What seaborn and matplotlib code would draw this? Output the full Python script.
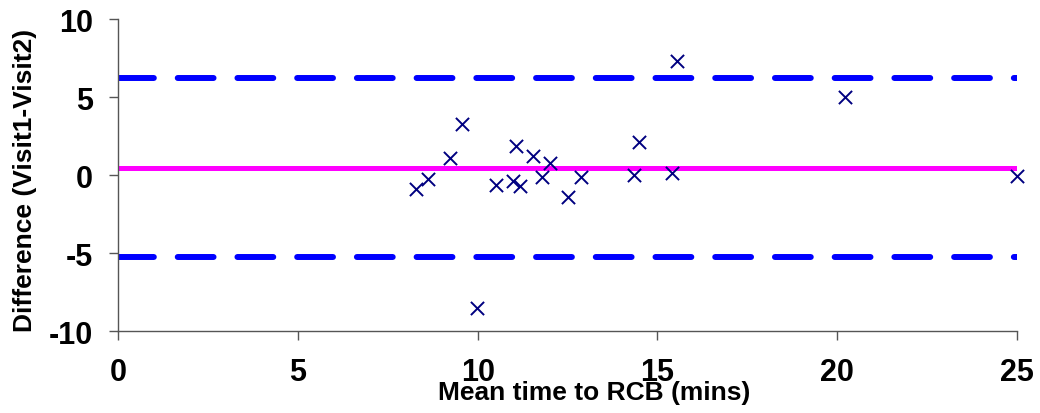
import numpy as np
import pandas as pd
import matplotlib
matplotlib.use('Agg')
import matplotlib.pyplot as plt
import seaborn as sns

# data (Bland-Altman style plot)
mean_time = [8.28, 8.63, 9.23, 9.55, 9.99, 10.51, 10.99, 11.07, 11.18, 11.55,
             11.80, 12.00, 12.50, 12.87, 14.36, 14.49, 15.40, 15.54, 20.22, 25.0]
difference = [-0.88, -0.24, 1.09, 3.26, -8.50, -0.60, -0.35, 1.87, -0.71, 1.22,
              -0.13, 0.77, -1.41, -0.09, 0.02, 2.12, 0.15, 7.35, 5.04, -0.03]
bias = 0.48
upper_loa = 6.24
lower_loa = -5.26
line_x = [0, 25]

x_ticks = [0, 5, 10, 15, 20, 25]
y_ticks = [-10, -5, 0, 5, 10]

df = pd.DataFrame({'mean': mean_time, 'diff': difference})

sns.set_style('ticks')
plt.rcParams['font.family'] = ['Liberation Sans', 'DejaVu Sans']
plt.rcParams['font.weight'] = 'bold'
plt.rcParams['axes.unicode_minus'] = False

fig = plt.figure(figsize=(10.4, 4.14), dpi=100)
ax = fig.add_axes([0.1138, 0.198, 0.8638, 0.753])

# limits of agreement and mean difference
for lim in [upper_loa, lower_loa]:
    ax.plot(line_x, [lim, lim], color='#0000FF', lw=4.3, dashes=(6, 4),
            dash_capstyle='round', solid_capstyle='round', zorder=2)
ax.plot(line_x, [bias, bias], color='#FF00FF', lw=3.6, solid_capstyle='round', zorder=2)

sns.scatterplot(data=df, x='mean', y='diff', marker='x', color='#000080',
                s=90, linewidth=1.4, ax=ax, zorder=3, clip_on=False)

ax.set_xlim(0, 25)
ax.set_ylim(-10, 10)
ax.set_xticks(x_ticks)
ax.set_yticks(y_ticks)
ax.tick_params(axis='both', labelsize=22, length=6.5, width=1, color='#555555',
               labelcolor='black', pad=12)

for s in ['top', 'right']:
    ax.spines[s].set_visible(False)
for s in ['left', 'bottom']:
    ax.spines[s].set_color('#555555')
    ax.spines[s].set_linewidth(1)

ax.set_xlabel('Mean time to RCB (mins)', fontsize=19, fontweight='bold', color='black')
ax.set_ylabel('Difference (Visit1-Visit2)', fontsize=19, fontweight='bold', color='black')
ax.xaxis.set_label_coords(0.530, -0.157)
ax.yaxis.set_label_coords(-0.0905, 0.485)

fig.savefig('out.png', dpi=100)
